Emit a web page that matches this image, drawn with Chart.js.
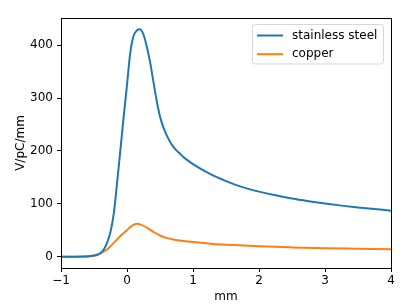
<!DOCTYPE html>
<html>
<head>
<meta charset="utf-8">
<script src="https://cdn.jsdelivr.net/npm/chart.js@4/dist/chart.umd.min.js"></script>
<style>
html,body{margin:0;padding:0;background:#fff;}
#wrap{width:407px;height:305px;position:relative;}
</style>
</head>
<body>
<div id="wrap"><canvas id="c" width="407" height="305"></canvas></div>
<script>
// ---- data ----
const seriesNames = ["stainless steel", "copper"];
const steelX = [-1, -0.8, -0.6, -0.5, -0.45, -0.4, -0.35, -0.3, -0.25, -0.2, -0.15, -0.1, -0.05, 0, 0.05, 0.1, 0.15, 0.19, 0.25, 0.3, 0.35, 0.4, 0.45, 0.5, 0.55, 0.6, 0.65, 0.7, 0.75, 0.8, 0.85, 0.9, 1.0, 1.25, 1.5, 1.75, 2.0, 2.25, 2.5, 2.75, 3.0, 3.25, 3.5, 3.75, 4.0];
const steelY = [0, 0, 0.5, 2, 3.5, 7, 14, 27, 47, 82, 140, 202, 265, 325, 386, 418, 428, 430, 420, 397, 368, 331, 295, 265, 245, 230, 218, 208, 201, 195, 189, 184, 175, 157, 143, 131.5, 123, 116, 110, 105, 100.5, 96.5, 93, 90, 87];
const copperX = [-1, -0.6, -0.5, -0.4, -0.3, -0.2, -0.1, 0, 0.05, 0.1, 0.15, 0.2, 0.3, 0.4, 0.5, 0.6, 0.7, 0.8, 1.0, 1.3, 1.6, 2.0, 2.5, 3.0, 3.5, 4.0];
const copperY = [0, 0, 1.5, 6, 14, 26, 39, 50, 56, 60, 62, 61, 55, 47, 40, 35.5, 32.5, 30.5, 27.5, 24, 22, 19.5, 17.5, 16, 15, 14];
const xTicks = [-1, 0, 1, 2, 3, 4];
const yTicks = [0, 100, 200, 300, 400];
const xTitle = "mm";
const yTitle = "V/pC/mm";

const toPts = (xs, ys) => xs.map((x, i) => ({x: x, y: ys[i]}));
const FONT = "'DejaVu Sans', sans-serif";

const framePlugin = {
  id: 'frame',
  afterDraw(chart) {
    const {ctx, chartArea: a} = chart;
    ctx.save();
    ctx.strokeStyle = '#000';
    ctx.lineWidth = 1;
    ctx.strokeRect(Math.round(a.left) + 0.5, Math.round(a.top) + 0.5, Math.round(a.right - a.left), Math.round(a.bottom - a.top));
    // legend
    const bx = 252.5, by = 24.5, bw = 131, bh = 39.5;
    ctx.globalAlpha = 0.8;
    ctx.fillStyle = '#fff';
    ctx.strokeStyle = '#cccccc';
    ctx.beginPath();
    ctx.roundRect(bx, by, bw, bh, 3);
    ctx.fill();
    ctx.stroke();
    ctx.globalAlpha = 1;
    ctx.font = "12px " + FONT;
    ctx.textBaseline = 'middle';
    ctx.textAlign = 'left';
    chart.data.datasets.forEach((ds, i) => {
      const y = 35.5 + i * 18.7;
      ctx.strokeStyle = ds.borderColor;
      ctx.lineWidth = 2;
      ctx.beginPath();
      ctx.moveTo(257, y);
      ctx.lineTo(283, y);
      ctx.stroke();
      ctx.fillStyle = '#000';
      ctx.fillText(ds.label, 292, y);
    });
    ctx.restore();
  }
};

new Chart(document.getElementById('c'), {
  type: 'line',
  data: {
    datasets: [
      {label: seriesNames[0], data: toPts(steelX, steelY), borderColor: '#1f77b4', borderWidth: 2, pointRadius: 0, cubicInterpolationMode: 'monotone', fill: false},
      {label: seriesNames[1], data: toPts(copperX, copperY), borderColor: '#ff7f0e', borderWidth: 2, pointRadius: 0, cubicInterpolationMode: 'monotone', fill: false}
    ]
  },
  options: {
    responsive: false,
    animation: false,
    events: [],
    layout: {padding: {top: 18, right: 16, left: 0, bottom: 0}},
    plugins: {legend: {display: false}, tooltip: {enabled: false}},
    scales: {
      x: {
        type: 'linear', min: -1, max: 4,
        afterBuildTicks: s => { s.ticks = xTicks.map(v => ({value: v})); },
        afterFit: s => { s.height = 37; },
        ticks: {color: '#000', font: {family: FONT, size: 12}, padding: 2, maxRotation: 0, autoSkip: false,
          callback: v => String(v).replace('-', '\u2212')},
        grid: {drawOnChartArea: false, drawTicks: true, tickLength: 4, color: '#000'},
        border: {display: false},
        title: {display: true, text: xTitle, color: '#000', font: {family: FONT, size: 12}, padding: {top: 0, bottom: 1}}
      },
      y: {
        type: 'linear', min: -21.5, max: 451.5,
        afterBuildTicks: s => { s.ticks = yTicks.map(v => ({value: v})); },
        afterFit: s => { s.width = 61; },
        ticks: {color: '#000', font: {family: FONT, size: 12}, padding: 4, autoSkip: false},
        grid: {drawOnChartArea: false, drawTicks: true, tickLength: 4, color: '#000'},
        border: {display: false},
        title: {display: true, text: yTitle, color: '#000', font: {family: FONT, size: 12}, padding: {top: 14, bottom: 0}}
      }
    }
  },
  plugins: [framePlugin]
});
</script>
</body>
</html>
